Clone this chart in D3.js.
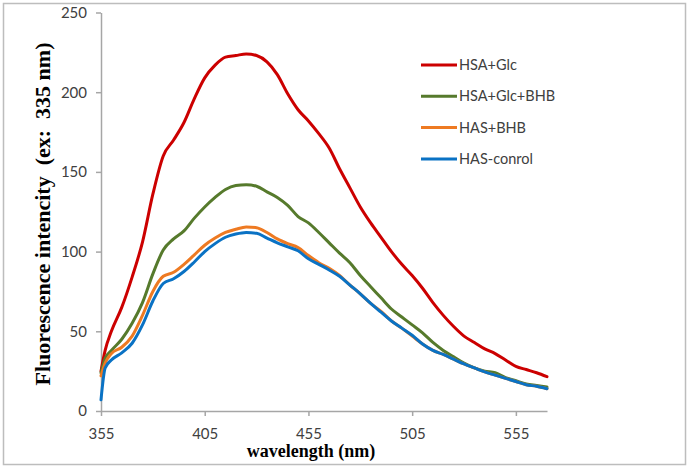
<!DOCTYPE html>
<html>
<head>
<meta charset="utf-8">
<script src="https://cdn.jsdelivr.net/npm/d3@7"></script>
<style>
  body { margin: 0; background: #fff; }
</style>
</head>
<body>
<div id="chart"></div>
<script>
// wavelength (nm) where the spectra were read
var wavelengths = [355, 357, 360, 365, 370, 375, 380, 385, 390, 395, 400, 405, 410, 415, 420, 425,
    430, 435, 440, 445, 450, 455, 460, 465, 470, 475, 480, 485, 490, 495, 500, 505, 510, 515,
    520, 525, 530, 535, 540, 545, 550, 555, 560, 565, 570];

var hsaGlc = [25, 38, 50, 65, 84, 106, 136, 160, 170, 181, 196, 209, 217, 222, 223, 224,
    223, 219, 211, 199, 189, 182, 174, 165, 152, 140, 128, 118, 109, 100, 92, 85, 77, 68,
    60, 53, 47, 43, 39, 36, 32, 28, 26, 24, 21.5];

var hsaGlcBhb = [24, 33, 38, 45, 55, 68, 86, 101, 108, 113, 121, 128, 134, 139, 141.5, 142,
    141, 137.5, 134, 129, 122, 118, 112, 105.5, 99, 93, 85, 78, 71, 64, 59, 54, 49, 43,
    38, 34, 30, 27, 25, 24, 21, 19, 17, 16, 15];

var hasBhb = [22, 30, 36, 40, 47, 60, 75, 84.5, 87, 92, 98, 104, 108.5, 112, 114, 115.5,
    115, 112, 108, 105, 102.5, 97.5, 93, 89.5, 85, 79, 73.5, 67.5, 62.5, 56.5, 52, 47, 42, 38,
    35.5, 32.5, 29.5, 27, 24.5, 22.5, 20.5, 18.5, 16.5, 15.5, 14];

var hasControl = [7, 27, 32, 36.5, 42.5, 54, 69, 80, 83, 87.5, 93.5, 100, 105, 109, 111, 112,
    111.5, 108.5, 105.5, 103, 100.5, 95.5, 92, 88.5, 84.5, 79, 73.5, 67.5, 62, 56.5, 52, 47.5, 42, 38,
    35.5, 32.5, 29.5, 27, 24.5, 22.5, 20.5, 18.5, 16.5, 15.5, 14];

var seriesNames = ['HSA+Glc', 'HSA+Glc+BHB', 'HAS+BHB', 'HAS-conrol'];
var seriesColors = ['#cc0000', '#567a2c', '#ee7a22', '#0a72c4'];
var xTicks = [355, 405, 455, 505, 555];
var yTicks = [0, 50, 100, 150, 200, 250];

var width = 689,
    height = 470,
    margin = { left: 101, top: 12.5, right: 142, bottom: 59 };

var svg = d3.select('#chart')
    .append('svg')
    .attr('width', width)
    .attr('height', height);

// outer frame
svg.append('rect')
    .attr('x', 3.5)
    .attr('y', 3.5)
    .attr('width', 682)
    .attr('height', 461)
    .attr('fill', 'none')
    .attr('stroke', '#bdbdbd')
    .attr('stroke-width', 1.5);

var x = d3.scaleLinear()
    .domain([355, 570])
    .range([margin.left, width - margin.right]);

var y = d3.scaleLinear()
    .domain([0, 250])
    .range([height - margin.bottom, margin.top]);

var xAxis = svg.append('g')
    .attr('transform', 'translate(0,' + y(0) + ')')
    .call(d3.axisBottom(x).tickValues(xTicks).tickSize(5).tickPadding(12).tickSizeOuter(0));

var yAxis = svg.append('g')
    .attr('transform', 'translate(' + x(355) + ',0)')
    .call(d3.axisLeft(y).tickValues(yTicks).tickSize(5).tickPadding(9).tickSizeOuter(0));

[xAxis, yAxis].forEach(function(g) {
    g.select('.domain').attr('stroke', '#a6a6a6').attr('stroke-width', 1.5);
    g.selectAll('.tick line').attr('stroke', '#a6a6a6').attr('stroke-width', 1.5);
    g.selectAll('.tick text')
        .attr('fill', '#404040')
        .style('font', '15px Lato, "Open Sans", sans-serif');
});

var line = d3.line()
    .x(function(d) { return x(d[0]); })
    .y(function(d) { return y(d[1]); })
    .curve(d3.curveMonotoneX);

var allSeries = [hsaGlc, hsaGlcBhb, hasBhb, hasControl];

// draw the weakest spectrum last so it sits on top, like the original
allSeries.forEach(function(values, i) {
    svg.append('path')
        .datum(wavelengths.map(function(w, j) { return [w, values[j]]; }))
        .attr('d', line)
        .attr('fill', 'none')
        .attr('stroke', seriesColors[i])
        .attr('stroke-width', 3)
        .attr('stroke-linejoin', 'round')
        .attr('stroke-linecap', 'round');
});

// legend
var legend = svg.append('g')
    .attr('transform', 'translate(421,65)');

var legendRows = legend.selectAll('g')
    .data(seriesNames)
    .enter()
    .append('g')
    .attr('transform', function(d, i) { return 'translate(0,' + (i * 31.3) + ')'; });

legendRows.append('line')
    .attr('x1', 0)
    .attr('x2', 36)
    .attr('stroke', function(d, i) { return seriesColors[i]; })
    .attr('stroke-width', 3);

legendRows.append('text')
    .attr('x', 38)
    .attr('dy', '.35em')
    .attr('fill', '#404040')
    .style('font', '14.5px Lato, "Open Sans", sans-serif')
    .text(function(d) { return d; });

// axis titles
svg.append('text')
    .attr('x', 311)
    .attr('y', 457)
    .attr('text-anchor', 'middle')
    .style('font', 'bold 18px "Liberation Serif", "Times New Roman", serif')
    .text('wavelength (nm)');

svg.append('text')
    .attr('transform', 'translate(50,214) rotate(-90)')
    .attr('text-anchor', 'middle')
    .style('font', 'bold 22px "Liberation Serif", "Times New Roman", serif')
    .style('white-space', 'pre')
    .text('Fluorescence intencity  (ex:  335 nm)');
</script>
</body>
</html>
